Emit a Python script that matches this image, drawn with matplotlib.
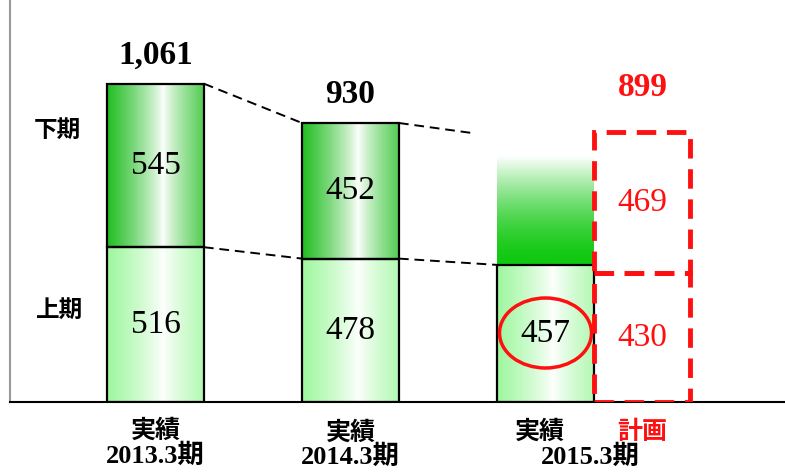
import numpy as np
import matplotlib
matplotlib.use("Agg")
import matplotlib.pyplot as plt
from matplotlib.colors import LinearSegmentedColormap
from matplotlib.patches import Ellipse

# data
periods = ["2013.3期", "2014.3期", "2015.3期"]
first_half = [516, 478, 457]       # 上期
second_half = [545, 452, None]     # 下期
totals = [1061, 930, None]
plan_first = 430
plan_second = 469
plan_total = 899

JP = ["Noto Sans CJK JP", "DejaVu Sans"]
NUM = ["Liberation Serif", "Noto Sans CJK JP"]
RED = "#ff1010"

fig = plt.figure(figsize=(7.85, 4.73), dpi=100)
ax = fig.add_axes([10 / 785, 71 / 473, 775 / 785, 402 / 473])

x = np.arange(len(periods))
w = 0.497
plan_x = x[2] + w

# horizontal gradient: green edges, white a bit right of centre
t = np.linspace(0, 1, 200)
prof = np.abs(t - 0.58) / 0.58
prof = np.clip(prof, 0, 1) ** 0.8
grad = np.tile(prof, (2, 1))
cm_dark = LinearSegmentedColormap.from_list("dk", ["#ffffff", "#22be22"])
cm_light = LinearSegmentedColormap.from_list("lt", ["#ffffff", "#9ef79e"])

for i in range(3):
    lo = first_half[i]
    ax.imshow(grad, cmap=cm_light, extent=(x[i] - w / 2, x[i] + w / 2, 0, lo),
              aspect="auto", zorder=1, vmin=0, vmax=1)
    ax.bar(x[i], lo, w, fill=False, edgecolor="black", lw=1.6, zorder=3)
    ax.text(x[i], lo / 2, str(lo), ha="center", va="center", fontsize=24,
            family=NUM, zorder=4)
    if second_half[i] is not None:
        hi = second_half[i]
        ax.imshow(grad, cmap=cm_dark, extent=(x[i] - w / 2, x[i] + w / 2, lo, lo + hi),
                  aspect="auto", zorder=1, vmin=0, vmax=1)
        ax.bar(x[i], hi, w, bottom=lo, fill=False, edgecolor="black", lw=1.6, zorder=3)
        ax.text(x[i], lo + hi / 2, str(hi), ha="center", va="center", fontsize=24,
                family=NUM, zorder=4)
        ax.text(x[i], totals[i] + 95, f"{totals[i]:,}", ha="center", va="center",
                fontsize=24, family=NUM, weight="bold")

# fading top part on 2015.3 actual (green at bottom, white at top)
s = np.linspace(0, 1, 200).reshape(-1, 1)
vgrad = 1 - s ** 1.6
cm_v = LinearSegmentedColormap.from_list("v", ["#ffffff", "#10c810"])
ax.imshow(vgrad, cmap=cm_v, extent=(x[2] - w / 2, x[2] + w / 2, first_half[2], 820),
          aspect="auto", origin="lower", zorder=1, vmin=0, vmax=1)

# plan boxes
ax.bar(plan_x, plan_first, w * 0.99, fill=False, edgecolor=RED, lw=3.5,
       linestyle=(0, (4, 2.2)), zorder=3)
ax.bar(plan_x, plan_second, w * 0.99, bottom=plan_first, fill=False, edgecolor=RED,
       lw=3.5, linestyle=(0, (4, 2.2)), zorder=3)
ax.text(plan_x, plan_first / 2, str(plan_first), ha="center", va="center",
        fontsize=24, family=NUM, color=RED)
ax.text(plan_x, plan_first + plan_second / 2, str(plan_second), ha="center",
        va="center", fontsize=24, family=NUM, color=RED)
ax.text(plan_x, plan_total + 150, str(plan_total), ha="center", va="center",
        fontsize=24, family=NUM, weight="bold", color=RED)

# circle around 457
ax.add_patch(Ellipse((x[2], 230), 92 / 195, 70 / 0.3, fill=False,
                     edgecolor=RED, lw=2.5, zorder=5))

# dashed connectors
dk = dict(color="black", lw=1.4, linestyle=(0, (5, 3)), zorder=2)
ax.plot([x[0] + w / 2, x[1] - w / 2], [totals[0], totals[1]], **dk)
ax.plot([x[0] + w / 2, x[1] - w / 2], [first_half[0], first_half[1]], **dk)
ax.plot([x[1] + w / 2, x[1] + w / 2 + 0.37], [totals[1], totals[1] - 33], **dk)
ax.plot([x[1] + w / 2, x[2] - w / 2], [first_half[1], first_half[2]], **dk)

# half labels
ax.text(-0.505, 907, "下期", ha="center", va="center", fontsize=17, family=JP, weight="bold")
ax.text(-0.49, 307, "上期", ha="center", va="center", fontsize=17, family=JP, weight="bold")

# category labels
ax.set_xticks([])
ax.set_yticks([])
for i, p in enumerate(periods):
    if i < 2:
        ax.text(x[i], -95 - 8 * i, "実績", ha="center", va="center", fontsize=18,
                family=JP, weight="bold")
        ax.text(x[i], -180 - 4 * i, p, ha="center", va="center", fontsize=19,
                family=NUM, weight="bold")
ax.text(x[2] - 0.03, -100, "実績", ha="center", va="center", fontsize=18,
        family=JP, weight="bold")
ax.text(plan_x, -100, "計画", ha="center", va="center", fontsize=18,
        family=JP, weight="bold", color=RED)
ax.text(x[2] + 0.23, -184, periods[2], ha="center", va="center", fontsize=19,
        family=NUM, weight="bold")

ax.set_xlim(-0.746, 3.228)
ax.set_ylim(0, 1340)
for s_ in ["top", "right"]:
    ax.spines[s_].set_visible(False)
ax.spines["left"].set_color("#999999")
ax.spines["left"].set_linewidth(1.5)
ax.spines["bottom"].set_color("black")
ax.spines["bottom"].set_linewidth(1.5)

fig.savefig("out.png", dpi=100)
